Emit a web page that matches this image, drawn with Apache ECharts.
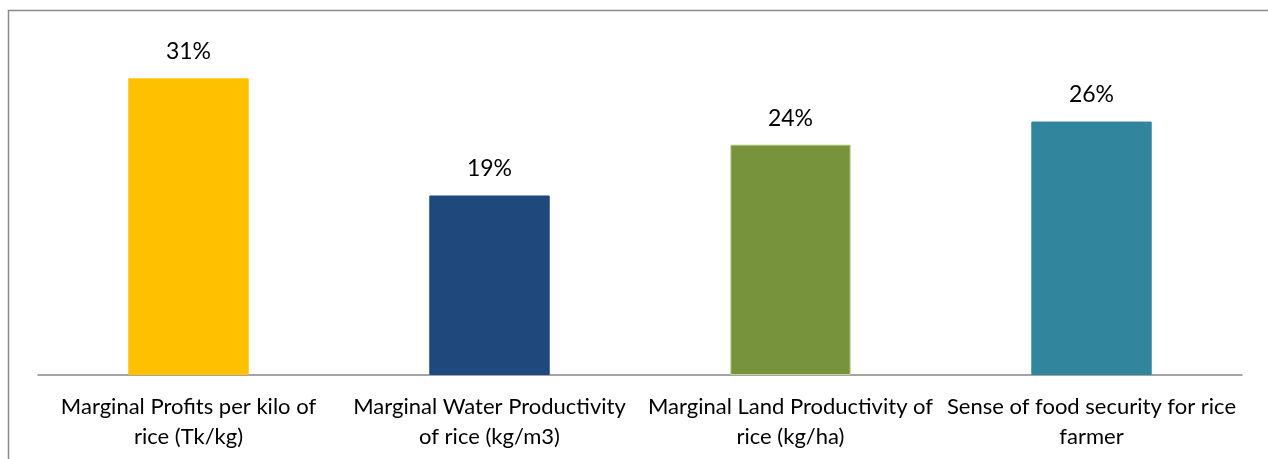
<!DOCTYPE html>
<html><head><meta charset="utf-8">
<script src="https://cdn.jsdelivr.net/npm/echarts@6/dist/echarts.min.js"></script>
<style>html,body{margin:0;padding:0;background:#fff}#c{width:1268px;height:459px}</style>
</head><body><div id="c"></div>
<script>
const categories = [
  'Marginal Profits per kilo of\nrice (Tk/kg)',
  'Marginal Water Productivity\nof rice (kg/m3)',
  'Marginal Land Productivity of\nrice (kg/ha)',
  'Sense of food security for rice\nfarmer'
];
const values = [0.309, 0.187, 0.240, 0.264];
const barColors = ['#FFC000', '#1F497D', '#77933C', '#31859C'];
const barBorders = ['#FFC000', '#1F497D', '#C3D69B', '#31859C'];

const chart = echarts.init(document.getElementById('c'), null, {renderer: 'canvas'});
const FONT = 'Lato';
chart.setOption({
  animation: false,
  graphic: [{
    type: 'rect', shape: {x: 8.5, y: 10.5, width: 1400, height: 600},
    style: {fill: 'none', stroke: '#8a8a8a', lineWidth: 1.5}, silent: true
  }],
  grid: {left: 38, right: 26, top: 39, bottom: 84, containLabel: false},
  xAxis: {
    type: 'category', data: categories,
    axisLine: {show: true, lineStyle: {color: '#868686', width: 1.5}},
    axisTick: {show: false},
    axisLabel: {
      interval: 0, color: '#000', fontFamily: FONT, fontSize: 22,
      lineHeight: 30, margin: 17, align: 'center'
    }
  },
  yAxis: {
    type: 'value', min: 0, max: 0.35, show: false,
    splitLine: {show: false}
  },
  series: [{
    type: 'bar', barWidth: '40%',
    data: values.map((v, i) => ({
      value: v,
      itemStyle: {color: barColors[i], borderColor: barBorders[i], borderWidth: 1}
    })),
    label: {
      show: true, position: 'top', distance: 15,
      color: '#000', fontFamily: FONT, fontSize: 23,
      formatter: p => Math.round(p.value * 100) + '%'
    }
  }]
});
</script></body></html>
